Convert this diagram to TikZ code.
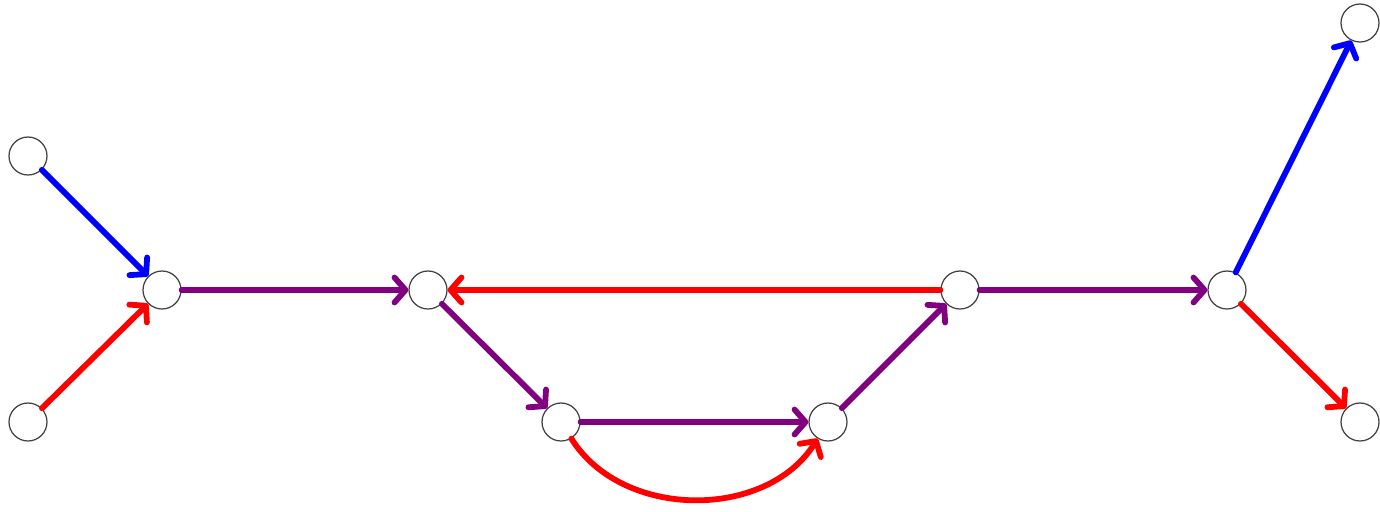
\documentclass[tikz,border=0pt]{standalone}
\usetikzlibrary{arrows.meta}
\definecolor{edgepurple}{RGB}{128,0,128}
\tikzset{
    vtx/.style={circle, draw=black!75, line width=0.7pt, fill=white, minimum size=0.76cm, inner sep=0pt},
    edge/.style={line width=3.3pt, line cap=round, -{Straight Barb[length=2.2mm, width=5mm, round]}}
}
\begin{document}
\begin{tikzpicture}[x=0.02cm, y=-0.02cm]
        \useasboundingbox (0,0) rectangle (1380,511);
        % vertices
        \node[vtx] (a) at (28,156) {};
        \node[vtx] (b) at (28,422) {};
        \node[vtx] (c) at (162,290) {};
        \node[vtx] (d) at (428,290) {};
        \node[vtx] (e) at (561,422) {};
        \node[vtx] (f) at (828,422) {};
        \node[vtx] (g) at (960,290) {};
        \node[vtx] (h) at (1227,290) {};
        \node[vtx] (i) at (1360,23) {};
        \node[vtx] (j) at (1360,422) {};

        \draw[edge, blue] (a) -- (c);
        \draw[edge, red] (b) -- (c);
        \draw[edge, edgepurple] (c) -- (d);
        \draw[edge, edgepurple] (d) -- (e);
        \draw[edge, edgepurple] (e) -- (f);
        \draw[edge, red] (e) to[bend right=58] (f);
        \draw[edge, edgepurple] (f) -- (g);
        \draw[edge, red] (g) -- (d);
        \draw[edge, edgepurple] (g) -- (h);
        \draw[edge, blue] (h) -- (i);
        \draw[edge, red] (h) -- (j);
    \end{tikzpicture}
\end{document}
